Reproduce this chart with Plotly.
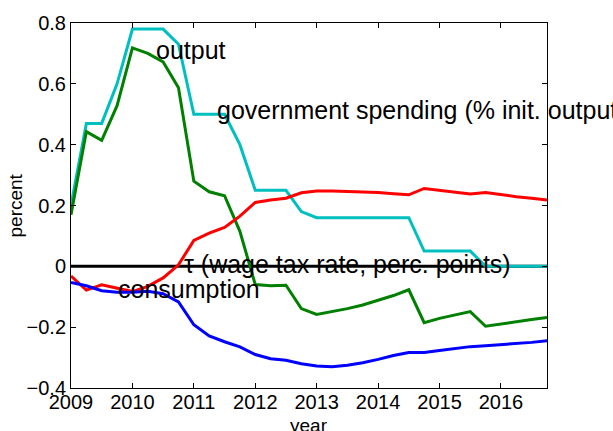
import numpy as np
import plotly.graph_objects as go

# Quarterly time axis, 2009Q1 .. 2016Q4
year = 2009 + 0.25 * np.arange(32)

gov_spending = [0.20, 0.47, 0.47, 0.60, 0.78, 0.78, 0.78, 0.73,
                0.50, 0.50, 0.50, 0.40, 0.25, 0.25, 0.25, 0.18,
                0.16, 0.16, 0.16, 0.16, 0.16, 0.16, 0.16, 0.05,
                0.05, 0.05, 0.05, 0.00, 0.00, 0.00, 0.00, 0.00]

output = [0.170, 0.443, 0.414, 0.528, 0.718, 0.700, 0.672, 0.587,
          0.280, 0.245, 0.232, 0.115, -0.060, -0.064, -0.062, -0.139,
          -0.158, -0.149, -0.139, -0.127, -0.112, -0.096, -0.077, -0.185,
          -0.171, -0.160, -0.149, -0.197, -0.189, -0.181, -0.175, -0.168]

tau = [-0.032, -0.078, -0.061, -0.073, -0.083, -0.066, -0.038, 0.005,
       0.085, 0.109, 0.128, 0.165, 0.210, 0.218, 0.224, 0.242,
       0.248, 0.248, 0.247, 0.245, 0.243, 0.239, 0.235, 0.256,
       0.250, 0.243, 0.238, 0.243, 0.235, 0.229, 0.224, 0.218]

consumption = [-0.053, -0.064, -0.080, -0.085, -0.085, -0.082, -0.090, -0.117,
               -0.192, -0.229, -0.248, -0.265, -0.290, -0.304, -0.309, -0.320,
               -0.328, -0.330, -0.325, -0.317, -0.306, -0.293, -0.283, -0.283,
               -0.277, -0.270, -0.264, -0.261, -0.258, -0.254, -0.250, -0.245]

x_ticks = [2009, 2010, 2011, 2012, 2013, 2014, 2015, 2016]
y_ticks = [-0.4, -0.2, 0, 0.2, 0.4, 0.6, 0.8]

FONT = "Liberation Sans, Arial, Helvetica, sans-serif"
LW = 3

fig = go.Figure()

# zero reference line
fig.add_trace(go.Scatter(x=[year[0], year[-1]], y=[0, 0], mode="lines",
                         line=dict(color="black", width=LW), hoverinfo="skip"))

series = [
    (gov_spending, "#00BFBF"),
    (output, "#008000"),
    (tau, "#FF0000"),
    (consumption, "#0000FF"),
]
for vals, col in series:
    fig.add_trace(go.Scatter(x=year, y=vals, mode="lines",
                             line=dict(color=col, width=LW)))

labels = [
    ("output", 2010.37, 0.712),
    ("government spending (% init. output)", 2011.36, 0.514),
    ("\u03c4 (wage tax rate, perc. points)", 2010.82, 0.008),
    ("consumption", 2009.75, -0.076),
]
annotations = []
for txt, lx, ly in labels:
    annotations.append(dict(x=lx, y=ly, xref="x", yref="y", text=txt,
                            showarrow=False, xanchor="left", yanchor="middle",
                            font=dict(family=FONT, size=25, color="black"),
                            borderpad=0))

annotations.append(dict(x=0, y=0.5, xref="paper", yref="paper", text="percent",
                        showarrow=False, textangle=-90, xanchor="center",
                        yanchor="middle", xshift=-56,
                        font=dict(family=FONT, size=19, color="black")))
annotations.append(dict(x=0.5, y=0, xref="paper", yref="paper", text="year",
                        showarrow=False, xanchor="center", yanchor="middle",
                        yshift=-37,
                        font=dict(family=FONT, size=19, color="black")))

axis_common = dict(showline=True, linecolor="black", linewidth=1,
                   mirror="ticks", ticks="inside", ticklen=5, tickwidth=1,
                   tickcolor="black", showgrid=False, zeroline=False,
                   tickfont=dict(family=FONT, size=20, color="black"))

fig.update_layout(
    width=613, height=431,
    margin=dict(l=71, r=66, t=13, b=43),
    paper_bgcolor="white", plot_bgcolor="white",
    showlegend=False,
    annotations=annotations,
    xaxis=dict(range=[2009, 2016.75], tickvals=x_ticks,
               ticktext=[str(v) for v in x_ticks], ticklabelstandoff=-4,
               **axis_common),
    yaxis=dict(range=[-0.4, 0.8], tickvals=y_ticks,
               ticktext=["\u22120.4", "\u22120.2", "0", "0.2", "0.4", "0.6", "0.8"],
               **axis_common),
)

fig.write_html("out.html")
